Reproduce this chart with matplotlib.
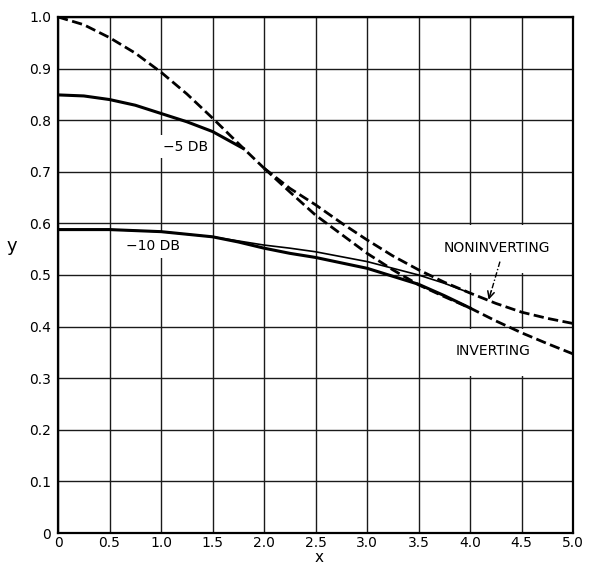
import matplotlib
matplotlib.use("Agg")
import matplotlib.pyplot as plt
import matplotlib.patches as patches

# common dashed curve (0 DB) before it splits
x_common = [0, 0.25, 0.5, 0.75, 1.0, 1.25, 1.5, 1.75, 2.0]
y_common = [1.0, 0.985, 0.960, 0.930, 0.893, 0.851, 0.804, 0.755, 0.707]

# dashed branches after the split
x_branch = [2.0, 2.25, 2.5, 2.75, 3.0, 3.25, 3.5, 3.75, 4.0, 4.25, 4.5, 4.75, 5.0]
y_noninv = [0.707, 0.668, 0.636, 0.601, 0.568, 0.537, 0.510, 0.486, 0.465, 0.445, 0.428, 0.416, 0.406]
y_inv = [0.707, 0.661, 0.616, 0.579, 0.542, 0.510, 0.481, 0.458, 0.436, 0.411, 0.388, 0.367, 0.347]

# -5 DB curve
x_5db = [0, 0.25, 0.5, 0.75, 1.0, 1.25, 1.5, 1.8]
y_5db = [0.849, 0.847, 0.840, 0.829, 0.813, 0.797, 0.778, 0.745]

# -10 DB curves (noninverting thin, inverting thick)
x_10db = [0, 0.5, 1.0, 1.5, 1.75, 2.0, 2.25, 2.5, 3.0, 3.5, 3.75, 4.0]
y_10db_noninv = [0.588, 0.588, 0.584, 0.574, 0.566, 0.558, 0.552, 0.545, 0.526, 0.500, 0.484, 0.465]
y_10db_inv = [0.588, 0.588, 0.584, 0.574, 0.564, 0.552, 0.542, 0.534, 0.513, 0.482, 0.460, 0.436]

x_ticks = [0, 0.5, 1.0, 1.5, 2.0, 2.5, 3.0, 3.5, 4.0, 4.5, 5.0]
x_labels = ["0", "0.5", "1.0", "1.5", "2.0", "2.5", "3.0", "3.5", "4.0", "4.5", "5.0"]
y_ticks = [0, 0.1, 0.2, 0.3, 0.4, 0.5, 0.6, 0.7, 0.8, 0.9, 1.0]
y_labels = ["0", "0.1", "0.2", "0.3", "0.4", "0.5", "0.6", "0.7", "0.8", "0.9", "1.0"]

plt.rcParams["font.family"] = ["DejaVu Sans"]

fig = plt.figure(figsize=(5.89, 5.68), dpi=100)
ax = fig.add_axes([0.0985, 0.0616, 0.8745, 0.9085])

ax.set_xlim(0, 5)
ax.set_ylim(0, 1)
ax.set_xticks(x_ticks)
ax.set_xticklabels(x_labels)
ax.set_yticks(y_ticks)
ax.set_yticklabels(y_labels)
ax.tick_params(length=0, labelsize=10)
ax.tick_params(axis="x", pad=2)
ax.tick_params(axis="y", pad=5)
ax.set_axisbelow(True)
ax.grid(True, color="#1a1a1a", lw=1.0)
for s in ax.spines.values():
    s.set_linewidth(1.6)

# white boxes that hide the grid under the labels
ax.add_patch(patches.Rectangle((3.56, 0.504), 1.38, 0.092, facecolor="white",
                               edgecolor="none", zorder=1))
ax.add_patch(patches.Rectangle((3.56, 0.304), 1.38, 0.092, facecolor="white",
                               edgecolor="none", zorder=1))

ax.plot(x_common, y_common, color="black", lw=2.0, ls="--", zorder=3)
ax.plot(x_branch, y_noninv, color="black", lw=2.0, ls="--", zorder=3)
ax.plot(x_branch, y_inv, color="black", lw=2.0, ls="--", zorder=3)
ax.plot(x_5db, y_5db, color="black", lw=2.2, zorder=3)
ax.plot(x_10db, y_10db_noninv, color="black", lw=1.2, zorder=3)
ax.plot(x_10db, y_10db_inv, color="black", lw=2.2, zorder=3)

ax.text(1.24, 0.749, "\u22125 DB", fontsize=10, ha="center", va="center", zorder=2,
        bbox=dict(facecolor="white", edgecolor="none", pad=3))
ax.text(0.92, 0.557, "\u221210 DB", fontsize=10, ha="center", va="center", zorder=2,
        bbox=dict(facecolor="white", edgecolor="none", pad=4))
ax.text(4.26, 0.552, "NONINVERTING", fontsize=10, ha="center", va="center", zorder=4)
ax.text(4.22, 0.353, "INVERTING", fontsize=10, ha="center", va="center", zorder=4)

# arrow from the NONINVERTING label to its curve
ax.plot([4.29, 4.205], [0.526, 0.468], color="black", lw=1.0,
        ls=(0, (4, 1.5, 1, 1.5)), zorder=4)
ax.annotate("", xy=(4.18, 0.452), xytext=(4.205, 0.469),
            arrowprops=dict(arrowstyle="->", lw=1.1, color="black",
                            mutation_scale=12, shrinkA=0, shrinkB=0), zorder=4)

ax.text(-0.089, 0.556, "y", transform=ax.transAxes, fontsize=13,
        ha="center", va="center")
ax.text(0.506, -0.056, "x", transform=ax.transAxes, fontsize=11,
        ha="center", va="baseline")

fig.savefig("out.png", dpi=100)
